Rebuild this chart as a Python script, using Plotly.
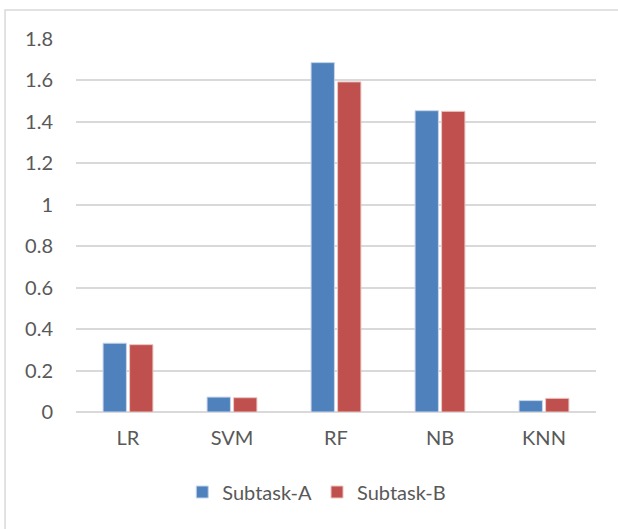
import plotly.graph_objects as go

categories = ["LR", "SVM", "RF", "NB", "KNN"]
subtask_a = [0.332, 0.072, 1.686, 1.454, 0.055]
subtask_b = [0.325, 0.069, 1.593, 1.451, 0.066]
y_ticks = [0, 0.2, 0.4, 0.6, 0.8, 1, 1.2, 1.4, 1.6, 1.8]
y_tick_labels = ["0", "0.2", "0.4", "0.6", "0.8", "1", "1.2", "1.4", "1.6", "1.8"]

font_family = "Lato, 'Open Sans', sans-serif"
txt_color = "#595959"
fs = 20

fig = go.Figure()
fig.add_trace(go.Bar(name="Subtask-A", x=categories, y=subtask_a,
                     marker=dict(color="#4F81BD", line=dict(color="#C6D5EA", width=1))))
fig.add_trace(go.Bar(name="Subtask-B", x=categories, y=subtask_b,
                     marker=dict(color="#C0504D", line=dict(color="#EAC6C5", width=1))))

fig.update_layout(
    width=618, height=529,
    margin=dict(l=76, r=22, t=39, b=117),
    paper_bgcolor="white", plot_bgcolor="white",
    barmode="group", bargap=0.49, bargroupgap=0.12,
    font=dict(family=font_family, size=fs, color=txt_color),
    showlegend=True,
    legend=dict(orientation="h", x=0.463, xanchor="center", y=-0.2145, yanchor="middle",
                font=dict(size=fs, color=txt_color), itemwidth=30, traceorder="normal"),
    xaxis=dict(showgrid=False, showline=False, ticks="", tickfont=dict(size=fs, color=txt_color),
               ticklabelstandoff=12),
    yaxis=dict(range=[0, 1.8], tickvals=y_ticks, ticktext=y_tick_labels,
               showgrid=True, gridcolor="#D9D9D9", gridwidth=1.5,
               zeroline=True, zerolinecolor="#D9D9D9", zerolinewidth=1.5,
               showline=False, ticks="", tickfont=dict(size=fs, color=txt_color),
               ticklabelstandoff=22),
    shapes=[dict(type="rect", xref="paper", yref="paper",
                 x0=-0.1365, x1=1.12, y0=-0.4, y1=1.0777,
                 line=dict(color="#D9D9D9", width=1.5), layer="below")],
)

fig.write_html("out.html", config={"displayModeBar": False},
               post_script="document.body.style.margin='0';document.body.style.overflow='hidden';")
